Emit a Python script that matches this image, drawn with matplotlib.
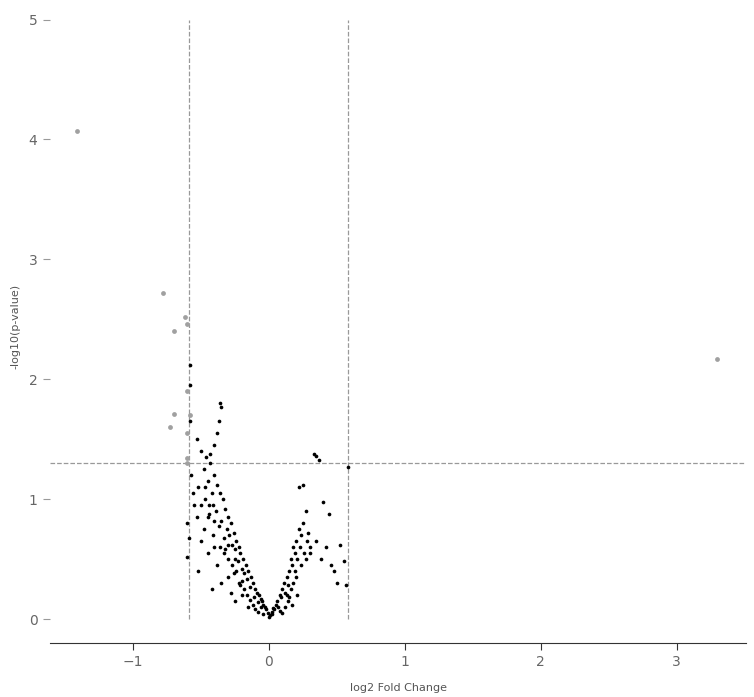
import matplotlib
matplotlib.use('Agg')
import matplotlib.pyplot as plt

# significant points (gray)
sig_x = [-1.41, -0.78, -0.62, -0.60, -0.70, -0.70, -0.73, -0.60, -0.58, -0.60, -0.60, -0.60, 3.30]
sig_y = [4.07, 2.72, 2.52, 2.46, 2.40, 1.71, 1.60, 1.90, 1.70, 1.55, 1.34, 1.30, 2.17]

# non-significant points (black)
ns = [
    (0, 0.02), (-0.01, 0.05), (0.01, 0.03), (-0.02, 0.08), (0.02, 0.06), (-0.03, 0.1), (0.03, 0.09),
    (-0.04, 0.12), (-0.05, 0.15), (-0.06, 0.17), (-0.07, 0.2), (-0.08, 0.14), (-0.09, 0.22), (-0.1, 0.25),
    (-0.11, 0.18), (-0.12, 0.3), (-0.13, 0.35), (-0.14, 0.27), (-0.15, 0.4), (-0.16, 0.33), (-0.17, 0.45),
    (-0.18, 0.38), (-0.19, 0.5), (-0.2, 0.42), (-0.21, 0.55), (-0.22, 0.6), (-0.23, 0.48), (-0.24, 0.65),
    (-0.25, 0.58), (-0.26, 0.72), (-0.27, 0.62), (-0.28, 0.8), (-0.29, 0.7), (-0.3, 0.85), (-0.31, 0.75),
    (-0.32, 0.92), (-0.33, 0.68), (-0.34, 1.0), (-0.35, 0.82), (-0.36, 1.05), (-0.37, 0.78), (-0.38, 1.12),
    (-0.39, 0.9), (-0.4, 1.2), (-0.41, 0.95), (-0.42, 1.05), (-0.43, 1.3), (-0.44, 0.88), (-0.45, 1.15),
    (-0.46, 1.35), (-0.47, 1.0), (-0.48, 1.25), (-0.5, 1.4), (-0.52, 1.1), (-0.53, 1.5), (-0.55, 0.95),
    (-0.56, 1.05), (-0.57, 1.2), (-0.58, 1.65), (-0.58, 1.95), (-0.58, 2.12), (-0.35, 1.77), (-0.36, 1.8),
    (-0.37, 1.65), (-0.38, 1.55), (-0.4, 1.45), (-0.43, 1.38), (-0.6, 0.8), (-0.6, 0.52), (-0.59, 0.68),
    (-0.2, 0.2), (-0.3, 0.5), (-0.4, 0.6), (-0.45, 0.55), (-0.5, 0.65), (-0.52, 0.4), (-0.35, 0.3),
    (-0.25, 0.15), (-0.15, 0.1), (-0.42, 0.25), (-0.3, 0.35), (-0.28, 0.22), (-0.48, 0.75), (-0.38, 0.45),
    (-0.22, 0.3), (-0.18, 0.25), (-0.12, 0.12), (-0.1, 0.08), (-0.08, 0.06), (-0.33, 0.55), (-0.27, 0.45),
    (-0.45, 0.85), (-0.5, 0.95), (-0.53, 0.85), (-0.41, 0.7), (-0.36, 0.6), (-0.24, 0.4), (-0.2, 0.32),
    (-0.16, 0.2), (-0.14, 0.16), (-0.06, 0.1), (-0.04, 0.04), (-0.3, 0.62), (-0.25, 0.5), (-0.4, 0.82),
    (-0.44, 0.95), (-0.47, 1.1), (-0.32, 0.58), (-0.26, 0.38), (-0.21, 0.28),
    (0.02, 0.04), (0.04, 0.08), (0.05, 0.12), (0.06, 0.15), (0.07, 0.1), (0.08, 0.2), (0.09, 0.18),
    (0.1, 0.25), (0.11, 0.3), (0.12, 0.22), (0.13, 0.35), (0.14, 0.28), (0.15, 0.4), (0.16, 0.5),
    (0.17, 0.45), (0.18, 0.6), (0.19, 0.55), (0.2, 0.65), (0.21, 0.5), (0.22, 0.75), (0.23, 0.6),
    (0.24, 0.7), (0.25, 0.8), (0.26, 0.55), (0.27, 0.9), (0.28, 0.65), (0.29, 0.72), (0.3, 0.6),
    (0.22, 1.1), (0.25, 1.12), (0.33, 1.38), (0.35, 1.36), (0.37, 1.33), (0.4, 0.98), (0.42, 0.6),
    (0.44, 0.88), (0.46, 0.45), (0.48, 0.4), (0.5, 0.3), (0.52, 0.62), (0.55, 0.48), (0.57, 0.28),
    (0.58, 1.27), (0.35, 0.65), (0.38, 0.5), (0.12, 0.1), (0.14, 0.15), (0.16, 0.25), (0.18, 0.3),
    (0.2, 0.35), (0.1, 0.05), (0.08, 0.07), (0.15, 0.18), (0.13, 0.2), (0.19, 0.4), (0.24, 0.45),
    (0.27, 0.5), (0.3, 0.55), (0.17, 0.12), (0.21, 0.2),
]
ns_x = [p[0] for p in ns]
ns_y = [p[1] for p in ns]

fc_cut = 0.585
p_cut = 1.3

fig = plt.figure(figsize=(7.54, 6.97), dpi=100)
ax = fig.add_axes([50 / 754, 1 - 643 / 697, 696 / 754, 633 / 697])

ax.scatter(ns_x, ns_y, s=7, color='black', linewidths=0, zorder=3)
ax.scatter(sig_x, sig_y, s=12, color='#a0a0a0', linewidths=0, zorder=3)

for v in (-fc_cut, fc_cut):
    ax.plot([v, v], [0, 5], ls='--', color='#999999', lw=0.9, zorder=1)
ax.axhline(p_cut, ls='--', color='#999999', lw=0.9, zorder=1)

ax.set_xlim(-1.61, 3.51)
ax.set_ylim(-0.2, 5.08)
ax.set_xticks([-1, 0, 1, 2, 3])
ax.set_yticks([0, 1, 2, 3, 4, 5])
for s in ('top', 'right', 'left'):
    ax.spines[s].set_visible(False)
ax.spines['bottom'].set_color('#333333')
ax.tick_params(axis='both', colors='#666666', labelsize=10)
ax.tick_params(axis='x', length=5, color='#333333')
ax.tick_params(axis='y', length=5, color='#999999', pad=4)
ax.set_xlabel('log2 Fold Change', color='#555555', fontsize=8, labelpad=10)
ax.set_ylabel('-log10(p-value)', color='#555555', fontsize=8, labelpad=6)

fig.savefig('out.png')
